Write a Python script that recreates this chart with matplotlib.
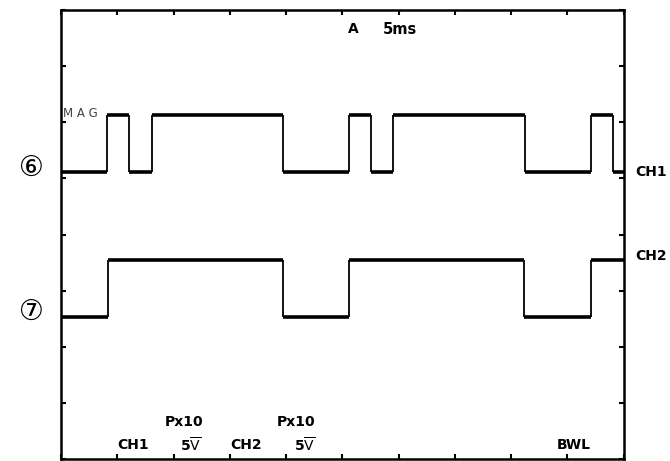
import matplotlib.pyplot as plt

# graticule: 10 x 8 divisions
n_xdiv = 10
n_ydiv = 8

# trace edges (divisions) and levels between them
ch1_edges = [0, 0.82, 1.21, 1.61, 3.94, 5.11, 5.51, 5.90, 8.24, 9.41, 9.80, 10]
ch1_levels = [5.12, 6.13, 5.12, 6.13, 5.12, 6.13, 5.12, 6.13, 5.12, 6.13, 5.12]

ch2_edges = [0, 0.83, 3.94, 5.12, 8.22, 9.41, 10]
ch2_levels = [2.53, 3.55, 2.53, 3.55, 2.53, 3.55]

# screen readouts (text, x, y)
bottom_labels = [("CH1", 1.28, 0.25), ("Px10", 2.18, 0.66), (r"5$\overline{\mathrm{V}}$", 2.31, 0.25),
                 ("CH2", 3.29, 0.25), ("Px10", 4.17, 0.66), (r"5$\overline{\mathrm{V}}$", 4.33, 0.25),
                 ("BWL", 9.11, 0.25)]

plt.rcParams['mathtext.fontset'] = 'dejavusans'


def trace(ax, edges, levels):
    # horizontal parts are drawn heavier than the fast edges, like on the CRT
    ax.hlines(levels, edges[:-1], edges[1:], color='black', lw=2.6)
    ax.vlines(edges[1:-1], levels[:-1], levels[1:], color='black', lw=1.3)


fig = plt.figure(figsize=(6.7, 4.61), dpi=100)
ax = fig.add_axes([0.091, 0.0043, 0.840, 0.974])

trace(ax, ch1_edges, ch1_levels)
trace(ax, ch2_edges, ch2_levels)

ax.set_xlim(0, n_xdiv)
ax.set_ylim(0, n_ydiv)
ax.set_xticks(range(n_xdiv + 1))
ax.set_yticks(range(n_ydiv + 1))
ax.tick_params(direction='in', length=3.5, width=1.5, top=True, right=True,
               labelbottom=False, labelleft=False)
for s in ax.spines.values():
    s.set_linewidth(1.8)

# on-screen text
ax.text(5.19, 7.66, "A", fontsize=10, fontweight='bold', ha='center', va='center')
ax.text(5.72, 7.66, "5ms", fontsize=10.5, fontweight='bold', ha='left', va='center')
ax.text(0.03, 6.16, "M A G", fontsize=8.5, ha='left', va='center', color='#444444')
for txt, x, y in bottom_labels:
    ax.text(x, y, txt, fontsize=10, fontweight='bold', ha='center', va='center')

# channel labels outside the screen
ax.text(10.2, 5.12, "CH1", fontsize=10, fontweight='bold', ha='left', va='center', clip_on=False)
ax.text(10.2, 3.62, "CH2", fontsize=10, fontweight='bold', ha='left', va='center', clip_on=False)
ax.text(-0.52, 5.18, "\u2465", fontsize=20, ha='center', va='center', clip_on=False,
        family=['DejaVu Sans', 'Noto Sans CJK JP'])
ax.text(-0.52, 2.62, "\u2466", fontsize=20, ha='center', va='center', clip_on=False,
        family=['DejaVu Sans', 'Noto Sans CJK JP'])

fig.savefig("out.png", dpi=100)
